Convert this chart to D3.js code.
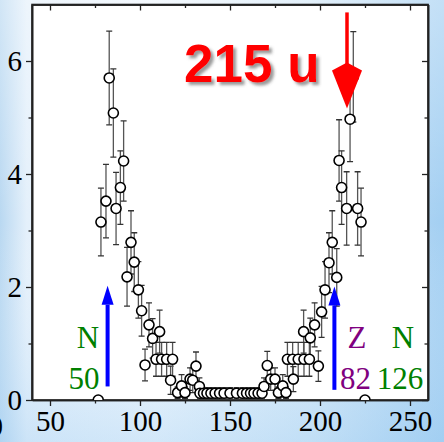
<!DOCTYPE html>
<html>
<head>
<meta charset="utf-8">
<script src="https://cdn.jsdelivr.net/npm/d3@7"></script>
<style>
  html, body { margin: 0; padding: 0; overflow: hidden; }
  svg { display: block; }
</style>
</head>
<body>
<svg id="chart" width="444" height="442"></svg>
<script>
// Mass number of each measured point
const massNumber = [
  76.8, 78.3, 81.1, 82.9, 85.2, 86.7, 89.1, 90.9, 92.8, 95.0, 96.8, 99.1, 100.9,
  102.8, 105.0, 107.0, 108.9, 110.9, 112.0, 114.8, 117.0, 118.1, 120.9, 123.1,
  125.0, 127.8, 129.3, 131.1, 133.0,
  133.3, 135.3, 137.2, 139.4, 141.7, 144.2, 146.7, 150.0, 153.6, 156.9, 159.2,
  161.4, 163.3, 165.6, 167.8,
  168.9, 170.7, 172.6, 175.0, 176.9, 179.3, 181.1, 181.9, 184.8, 185.2, 187.9,
  190.9, 191.1, 194.1, 194.6, 197.0, 199.1, 200.9, 202.8, 205.0, 206.8, 209.3,
  210.6, 212.0, 214.8, 216.7, 218.5, 220.9, 222.8, 225.0
];
// Yield of each point
const yieldValue = [
  0.0, 3.15, 3.52, 5.70, 5.08, 3.39, 3.76, 4.23, 2.18, 2.79, 2.44, 1.95, 1.58,
  0.62, 1.33, 1.09, 0.72, 1.21, 0.72, 0.72, 0.35, 0.72, 0.13, 0.25,
  0.13, 0.37, 0.35, 0.60, 0.24,
  0.12, 0.12, 0.12, 0.12, 0.12, 0.12, 0.12, 0.12, 0.12, 0.12, 0.12,
  0.12, 0.12, 0.12, 0.12,
  0.24, 0.61, 0.37, 0.37, 0.13, 0.25, 0.13, 0.72, 0.72, 0.37, 0.72,
  1.21, 0.72, 0.72, 1.10, 1.33, 0.60, 1.56, 1.95, 2.43, 2.79, 2.17,
  4.24, 3.76, 3.39, 4.97, 5.72, 3.39, 3.15, 0.0
];
// Symmetric uncertainty of each point
const yieldError = [
  0.0, 0.60, 0.65, 0.83, 0.78, 0.64, 0.65, 0.71, 0.52, 0.56, 0.52, 0.50, 0.45,
  0.28, 0.39, 0.35, 0.30, 0.38, 0.30, 0.30, 0.25, 0.30, 0.10, 0.20,
  0.10, 0.20, 0.22, 0.25, 0.15,
  0.10, 0.10, 0.10, 0.10, 0.10, 0.10, 0.10, 0.10, 0.10, 0.10, 0.10,
  0.10, 0.10, 0.10, 0.10,
  0.15, 0.25, 0.20, 0.20, 0.10, 0.20, 0.10, 0.30, 0.30, 0.22, 0.30,
  0.38, 0.30, 0.30, 0.35, 0.39, 0.27, 0.45, 0.50, 0.53, 0.56, 0.51,
  0.72, 0.65, 0.65, 0.75, 0.80, 0.65, 0.60, 0.0
];

const xMajorTicks = [50, 100, 150, 200, 250];
const xMinorTicks = [75, 125, 175, 225];
const yMajorTicks = [0, 2, 4, 6];
const yMinorTicks = [1, 3, 5];

// Shell-closure markers: [mass number, arrow start, arrow tip]
const shellArrows = [[82, 0.24, 2.02], [208, 0.18, 2.01]];
const peakMass = 215;
const peakArrow = [6.86, 5.16];

const W = 444, H = 442;
const svg = d3.select("#chart");

const defs = svg.append("defs");
const bg = defs.append("linearGradient").attr("id", "bg").attr("x1", 0).attr("x2", 1).attr("y1", 0).attr("y2", 0);
[[0, "#b9d8f1"], [0.06, "#e4f0fb"], [0.35, "#eef6fd"], [0.7, "#d3e8f8"], [1, "#a3cff2"]]
  .forEach(([o, c]) => bg.append("stop").attr("offset", o).attr("stop-color", c));
const bgV = defs.append("linearGradient").attr("id", "bgV").attr("x1", 0).attr("x2", 0).attr("y1", 0).attr("y2", 1);
[[0, "#ffffff", 0.35], [0.5, "#ffffff", 0], [1, "#9fcdf2", 0.35]]
  .forEach(([o, c, a]) => bgV.append("stop").attr("offset", o).attr("stop-color", c).attr("stop-opacity", a));

const shadow = defs.append("filter").attr("id", "shadow").attr("x", "-10%").attr("y", "-10%").attr("width", "130%").attr("height", "140%");
shadow.append("feDropShadow").attr("dx", 3).attr("dy", 3).attr("stdDeviation", 1.6)
  .attr("flood-color", "#555").attr("flood-opacity", 0.6);

svg.append("rect").attr("width", W).attr("height", H).attr("fill", "url(#bg)");
svg.append("rect").attr("width", W).attr("height", H).attr("fill", "url(#bgV)");

const x = d3.scaleLinear().domain([40, 260]).range([32, 428]);
const y = d3.scaleLinear().domain([0, 7]).range([400, 4.5]);

const plotL = x.range()[0], plotR = x.range()[1], plotT = y.range()[1], plotB = y.range()[0];

svg.append("rect").attr("x", plotL).attr("y", plotT)
  .attr("width", plotR - plotL).attr("height", plotB - plotT).attr("fill", "#fff");

defs.append("clipPath").attr("id", "clip").append("rect")
  .attr("x", plotL).attr("y", plotT).attr("width", plotR - plotL).attr("height", plotB - plotT);

// Axes: outward ticks bottom/left, inward mirror ticks top/right
function styleAxis(g) {
  g.selectAll("path").attr("stroke", "#222").attr("stroke-width", 1.6);
  g.selectAll("line").attr("stroke", "#222").attr("stroke-width", 1.3);
  g.selectAll("text").attr("font-family", "'Liberation Serif', 'Times New Roman', serif")
    .attr("font-size", 29).attr("fill", "#000");
}
const fmt = d3.format("d");
svg.append("g").attr("transform", `translate(0,${plotB})`)
  .call(d3.axisBottom(x).tickValues(xMajorTicks).tickFormat(fmt).tickSizeInner(6).tickSizeOuter(0).tickPadding(4))
  .call(styleAxis);
svg.append("g").attr("transform", `translate(0,${plotB})`)
  .call(d3.axisBottom(x).tickValues(xMinorTicks).tickFormat("").tickSizeInner(3.5).tickSizeOuter(0))
  .call(styleAxis);
svg.append("g").attr("transform", `translate(0,${plotT})`)
  .call(d3.axisTop(x).tickValues(xMajorTicks).tickFormat("").tickSizeInner(-6).tickSizeOuter(0))
  .call(styleAxis);
svg.append("g").attr("transform", `translate(0,${plotT})`)
  .call(d3.axisTop(x).tickValues(xMinorTicks).tickFormat("").tickSizeInner(-3.5).tickSizeOuter(0))
  .call(styleAxis);
svg.append("g").attr("transform", `translate(${plotL},0)`)
  .call(d3.axisLeft(y).tickValues(yMajorTicks).tickFormat(fmt).tickSizeInner(6).tickSizeOuter(0).tickPadding(4))
  .call(styleAxis);
svg.append("g").attr("transform", `translate(${plotL},0)`)
  .call(d3.axisLeft(y).tickValues(yMinorTicks).tickFormat("").tickSizeInner(3.5).tickSizeOuter(0))
  .call(styleAxis);
svg.append("g").attr("transform", `translate(${plotR},0)`)
  .call(d3.axisRight(y).tickValues(yMajorTicks).tickFormat("").tickSizeInner(-6).tickSizeOuter(0))
  .call(styleAxis);
svg.append("g").attr("transform", `translate(${plotR},0)`)
  .call(d3.axisRight(y).tickValues(yMinorTicks).tickFormat("").tickSizeInner(-3.5).tickSizeOuter(0))
  .call(styleAxis);

// Frame
svg.append("rect").attr("x", plotL).attr("y", plotT)
  .attr("width", plotR - plotL).attr("height", plotB - plotT)
  .attr("fill", "none").attr("stroke", "#222").attr("stroke-width", 1.6);

// Edge of a neighbouring label, cut by the border
svg.append("text").attr("x", 3).attr("y", 436).attr("text-anchor", "end")
  .attr("font-family", "'Liberation Serif', serif").attr("font-size", 29).text("0");

// Points with error bars
const points = massNumber.map((m, i) => ({ m, v: yieldValue[i], e: yieldError[i] }));
const marks = svg.append("g").attr("clip-path", "url(#clip)");
const cap = 3;
points.forEach(p => {
  const g = marks.append("g");
  if (p.e > 0) {
    g.append("line").attr("x1", x(p.m)).attr("x2", x(p.m))
      .attr("y1", y(p.v - p.e)).attr("y2", y(p.v + p.e))
      .attr("stroke", "#555").attr("stroke-width", 1.3);
    [p.v - p.e, p.v + p.e].forEach(v => g.append("line")
      .attr("x1", x(p.m) - cap).attr("x2", x(p.m) + cap)
      .attr("y1", y(v)).attr("y2", y(v))
      .attr("stroke", "#333").attr("stroke-width", 1.3));
  }
});
marks.append("g").selectAll("circle").data(points).join("circle")
  .attr("cx", d => x(d.m)).attr("cy", d => y(d.v)).attr("r", 5)
  .attr("fill", "#fff").attr("stroke", "#000").attr("stroke-width", 1.6);

// Vertical arrows
function arrow(g, m, v0, v1, color, shaftW, headW, headL, notch) {
  const cx = x(m), ys = y(v0), yt = y(v1);
  const dir = ys > yt ? -1 : 1; // -1: pointing up
  const yb = yt - dir * headL;
  g.append("line").attr("x1", cx).attr("x2", cx).attr("y1", ys).attr("y2", yb - dir * notch * 0.5)
    .attr("stroke", color).attr("stroke-width", shaftW);
  g.append("path")
    .attr("d", `M${cx},${yt} L${cx - headW / 2},${yb} L${cx},${yb + dir * notch} L${cx + headW / 2},${yb} Z`)
    .attr("fill", color);
}
const ann = svg.append("g");
shellArrows.forEach(([m, v0, v1]) => arrow(ann, m, v0, v1, "#0000ff", 4, 12, 19, 0));
arrow(ann, peakMass, peakArrow[0], peakArrow[1], "#ff0000", 3.5, 30, 38, -8);

// Shell-closure labels
const serif = "'Liberation Serif', 'Times New Roman', serif";
const labels = [
  { t: "N", x: 88, y: 347.5, c: "#008000" },
  { t: "50", x: 84, y: 388.5, c: "#008000" },
  { t: "Z", x: 357, y: 347.5, c: "#800080" },
  { t: "82", x: 355.5, y: 388.5, c: "#800080" },
  { t: "N", x: 403, y: 347.5, c: "#008000" },
  { t: "126", x: 400, y: 388.5, c: "#008000" }
];
ann.selectAll("text.shell").data(labels).join("text").attr("class", "shell")
  .attr("x", d => d.x).attr("y", d => d.y).attr("text-anchor", "middle")
  .attr("font-family", serif).attr("font-size", 31).attr("fill", d => d.c).text(d => d.t);

// Peak label
ann.append("text").attr("x", 184).attr("y", 81.5)
  .attr("font-family", "'Liberation Sans', Arial, sans-serif").attr("font-weight", "bold")
  .attr("font-size", 53).attr("fill", "#ff0000").attr("filter", "url(#shadow)")
  .text(peakMass + " u");
</script>
</body>
</html>
